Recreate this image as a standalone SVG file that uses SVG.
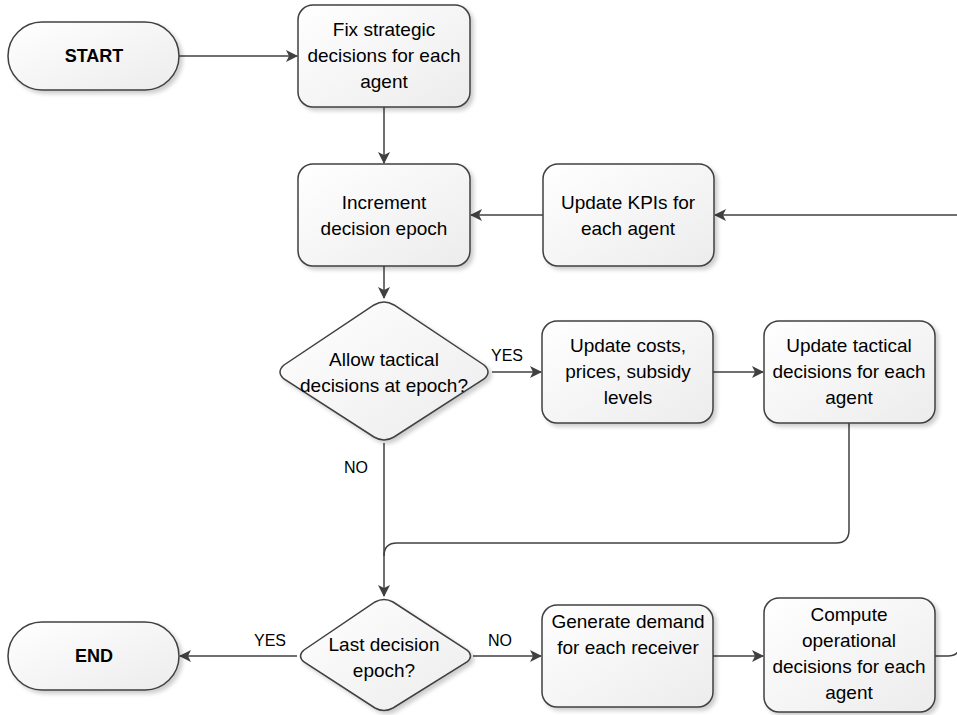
<svg xmlns="http://www.w3.org/2000/svg" width="957" height="715" viewBox="0 0 957 715">
<defs>
<linearGradient id="g" x1="0" y1="0" x2="1" y2="1">
<stop offset="0" stop-color="#ffffff"/>
<stop offset="1" stop-color="#ececec"/>
</linearGradient>
<filter id="sh" x="-10%" y="-10%" width="125%" height="125%">
<feGaussianBlur in="SourceAlpha" stdDeviation="2"/>
<feOffset dx="3" dy="3" result="b"/>
<feComponentTransfer><feFuncA type="linear" slope="0.2"/></feComponentTransfer>
<feMerge><feMergeNode/><feMergeNode in="SourceGraphic"/></feMerge>
</filter>
<marker id="ah" viewBox="0 0 12 12" refX="11" refY="6" markerWidth="12" markerHeight="12" markerUnits="userSpaceOnUse" orient="auto">
<path d="M0,0 L12,6 L0,12 L3,6 Z" fill="#404040"/>
</marker>
</defs>
<style>
.n{fill:url(#g);stroke:#404040;stroke-width:1.5;filter:url(#sh)}
.t{font-family:"Liberation Sans",Arial,sans-serif;font-size:19px;fill:#000;text-anchor:middle}
.b{font-weight:bold;font-size:18px}
.c{fill:none;stroke:#404040;stroke-width:1.5}
.a{marker-end:url(#ah)}
.l{font-family:"Liberation Sans",Arial,sans-serif;font-size:16px;fill:#000;text-anchor:middle}
</style>
<rect width="957" height="715" fill="#fff"/>
<g id="connectors">
<path class="c a" d="M179,56 H297"/>
<path class="c a" d="M384,107 V163"/>
<path class="c a" d="M543,215 H471"/>
<path class="c a" d="M960,215 H715"/>
<path class="c a" d="M384,266 V298"/>
<path class="c a" d="M492,372 H541"/>
<path class="c a" d="M713,372 H763"/>
<path class="c a" d="M384,443 V596"/>
<path class="c" d="M849,423 V530 Q849,543 836,543 H397 Q384,543 384,556"/>
<path class="c a" d="M297,656 H180"/>
<path class="c a" d="M473,656 H541"/>
<path class="c a" d="M713,656 H763"/>
<path class="c" d="M935,656 H948 Q960,656 960,644"/>
<text class="l" x="507" y="361">YES</text>
<text class="l" x="356" y="473">NO</text>
<text class="l" x="270" y="646">YES</text>
<text class="l" x="500" y="646">NO</text>
</g>
<g id="start">
<rect class="n" x="8" y="22" width="171" height="68" rx="34"/>
<text class="t b" x="94" y="62">START</text>
</g>
<g id="fix">
<rect class="n" x="298" y="5" width="172" height="102" rx="15"/>
<text class="t" x="384" y="36">Fix strategic</text>
<text class="t" x="384" y="62">decisions for each</text>
<text class="t" x="384" y="88">agent</text>
</g>
<g id="increment">
<rect class="n" x="298" y="164" width="172" height="102" rx="15"/>
<text class="t" x="384" y="209">Increment</text>
<text class="t" x="384" y="235">decision epoch</text>
</g>
<g id="kpis">
<rect class="n" x="543" y="164" width="171" height="102" rx="15"/>
<text class="t" x="628" y="209">Update KPIs for</text>
<text class="t" x="628" y="235">each agent</text>
</g>
<g id="allow">
<path class="n" d="M374,305 Q384,299 394,305 L484,365 Q492,372 484,379 L394,437 Q384,443 374,437 L284,379 Q276,372 284,365 Z"/>
<text class="t" x="384" y="366">Allow tactical</text>
<text class="t" x="384" y="392">decisions at epoch?</text>
</g>
<g id="costs">
<rect class="n" x="542" y="321" width="171" height="102" rx="15"/>
<text class="t" x="628" y="352">Update costs,</text>
<text class="t" x="628" y="378">prices, subsidy</text>
<text class="t" x="628" y="404">levels</text>
</g>
<g id="tactical">
<rect class="n" x="764" y="321" width="171" height="102" rx="15"/>
<text class="t" x="849" y="352">Update tactical</text>
<text class="t" x="849" y="378">decisions for each</text>
<text class="t" x="849" y="404">agent</text>
</g>
<g id="last">
<path class="n" d="M375,602 Q384,597 393,602 L467,650 Q474,656 467,662 L393,708 Q384,713 375,708 L304,662 Q297,656 304,650 Z"/>
<text class="t" x="384" y="651">Last decision</text>
<text class="t" x="384" y="677">epoch?</text>
</g>
<g id="end">
<rect class="n" x="8" y="622" width="171" height="68" rx="34"/>
<text class="t b" x="94" y="662">END</text>
</g>
<g id="generate">
<rect class="n" x="542" y="605" width="171" height="102" rx="15"/>
<text class="t" x="628" y="628">Generate demand</text>
<text class="t" x="628" y="654">for each receiver</text>
</g>
<g id="compute">
<rect class="n" x="764" y="598" width="171" height="114" rx="15"/>
<text class="t" x="849" y="621">Compute</text>
<text class="t" x="849" y="647">operational</text>
<text class="t" x="849" y="673">decisions for each</text>
<text class="t" x="849" y="699">agent</text>
</g>
</svg>
